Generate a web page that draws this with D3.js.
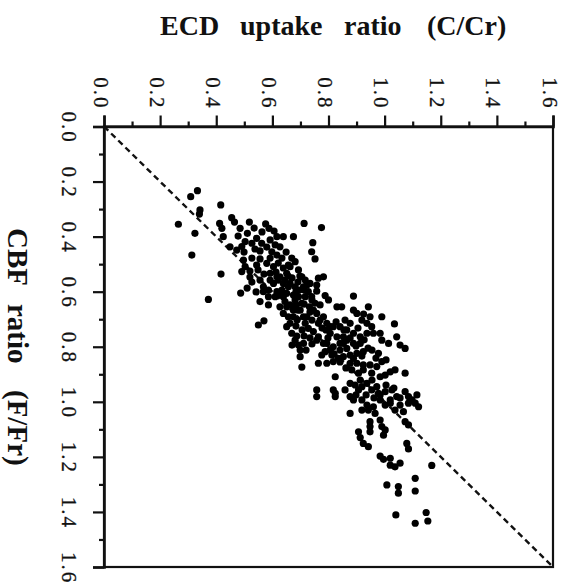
<!DOCTYPE html>
<html><head><meta charset="utf-8">
<script src="https://cdn.jsdelivr.net/npm/d3@7"></script>
<style>body{margin:0;background:#fff}svg{display:block}</style>
</head><body>
<svg id="chart" width="570" height="588"></svg>
<script>
// ---- data ----
const tickValues = [0.0,0.2,0.4,0.6,0.8,1.0,1.2,1.4,1.6];
const tickLabels = ["0.0","0.2","0.4","0.6","0.8","1.0","1.2","1.4","1.6"];
const minorTicks = [0.1,0.3,0.5,0.7,0.9,1.1,1.3,1.5];
const xTitle = ["ECD","uptake","ratio","(C/Cr)"];
const yTitle = ["CBF","ratio","(F/Fr)"];
const identityLine = [[0,0],[1.6,1.6]];
// ECD uptake ratio (C/Cr)
const ecd = [0.333,0.309,0.416,0.342,0.340,0.265,0.324,0.313,0.417,0.372,0.487,0.412,0.420,0.425,0.455,0.465,0.485,0.518,0.511,0.576,
0.588,0.606,0.616,0.449,0.473,0.491,0.503,0.527,0.544,0.562,0.538,0.556,0.580,0.598,0.627,0.639,0.649,0.669,0.497,0.503,
0.520,0.544,0.556,0.580,0.604,0.621,0.639,0.491,0.520,0.527,0.556,0.568,0.586,0.604,0.621,0.639,0.657,0.651,0.627,0.610,
0.556,0.586,0.586,0.550,0.570,0.568,0.616,0.713,0.775,0.675,0.744,0.740,0.752,0.610,0.616,0.681,0.657,0.693,0.717,0.711,
0.764,0.782,0.758,0.758,0.788,0.627,0.645,0.663,0.681,0.728,0.740,0.693,0.675,0.663,0.705,0.723,0.696,0.717,0.705,0.732,
0.800,0.830,0.847,0.651,0.675,0.651,0.669,0.782,0.806,0.830,0.853,0.764,0.782,0.806,0.699,0.705,0.764,0.817,0.592,0.616,
0.651,0.734,0.639,0.699,0.711,0.717,0.728,0.746,0.764,0.758,0.752,0.627,0.645,0.639,0.657,0.663,0.681,0.693,0.687,0.758,
0.758,0.681,0.675,0.723,0.746,0.770,0.794,0.817,0.841,0.865,0.889,0.853,0.806,0.758,0.794,0.817,0.841,0.865,0.889,0.913,
0.924,0.901,0.877,0.853,0.794,0.889,0.901,0.883,0.907,0.924,0.948,0.972,0.990,0.978,0.954,0.984,1.002,1.020,1.037,0.824,
0.817,0.824,0.877,0.895,0.907,0.919,0.937,0.954,0.972,0.889,0.919,0.937,0.984,1.002,1.020,1.043,1.073,1.085,1.115,1.109,
0.889,0.942,0.948,0.990,1.035,0.901,0.919,0.937,0.954,0.960,0.984,0.990,1.014,1.043,1.055,1.073,0.889,0.925,0.877,0.841,
0.865,0.913,0.937,0.711,0.699,0.788,0.812,0.835,0.877,0.924,1.073,0.776,0.913,0.877,0.984,1.020,1.121,0.877,0.942,0.966,
0.948,0.948,0.984,0.990,1.002,0.907,0.913,0.924,0.942,1.079,1.085,0.984,1.020,1.055,1.168,0.824,0.960,0.978,1.002,1.026,
1.037,1.055,1.067,0.996,0.996,1.020,1.037,1.109,1.008,1.049,1.049,1.109,1.040,1.109,1.148,1.154,0.948,1.085,1.073,1.085,
0.685,0.688,0.706,0.734,0.859,
0.478,0.499,0.527,0.549,0.570,0.592,0.613,0.634,0.656,0.592,0.563,0.535,0.510,0.542,0.592,0.634,
0.670,0.691,0.713,0.684,0.663,0.691,0.713,0.734,0.741,0.684,0.713,0.741,0.670,0.720,0.698,0.741,0.770,
0.777,0.798,0.827,0.855,0.877,0.905,0.927,0.941,0.841,0.862,0.898,0.820,0.791,0.919,0.955,0.969,1.005,
0.859,0.898,0.934,0.962,0.955,1.005,1.033,1.055,1.098,0.919];
// CBF ratio (F/Fr)
const cbf = [0.233,0.255,0.285,0.303,0.318,0.355,0.388,0.467,0.536,0.628,0.605,0.352,0.370,0.400,0.331,0.347,0.370,0.347,0.388,0.354,
0.370,0.380,0.400,0.437,0.449,0.436,0.418,0.424,0.406,0.424,0.445,0.452,0.438,0.455,0.437,0.400,0.456,0.478,0.485,0.509,
0.525,0.503,0.481,0.497,0.509,0.496,0.514,0.527,0.547,0.565,0.558,0.582,0.594,0.570,0.558,0.570,0.582,0.606,0.612,0.618,
0.636,0.618,0.648,0.721,0.706,0.600,0.600,0.352,0.367,0.400,0.422,0.455,0.481,0.430,0.467,0.491,0.503,0.521,0.558,0.582,
0.551,0.546,0.576,0.598,0.614,0.546,0.558,0.570,0.582,0.600,0.618,0.618,0.612,0.509,0.546,0.576,0.594,0.618,0.642,0.655,
0.630,0.655,0.655,0.655,0.691,0.727,0.751,0.691,0.727,0.764,0.788,0.764,0.788,0.812,0.836,0.874,0.860,0.854,0.533,0.546,
0.533,0.570,0.618,0.667,0.691,0.715,0.733,0.745,0.715,0.679,0.642,0.655,0.636,0.679,0.691,0.715,0.776,0.794,0.761,0.957,
0.981,0.630,0.667,0.691,0.667,0.703,0.715,0.727,0.727,0.739,0.751,0.764,0.751,0.776,0.788,0.800,0.812,0.806,0.788,0.788,
0.818,0.824,0.830,0.836,0.860,0.842,0.860,0.884,0.896,0.884,0.866,0.872,0.854,0.824,0.896,0.909,0.903,0.891,0.884,0.909,
0.957,0.981,0.933,0.939,0.957,0.945,0.933,0.957,0.945,0.993,0.993,1.012,0.993,1.012,0.993,0.981,0.963,0.981,0.975,1.005,
0.616,0.655,0.691,0.691,0.717,0.679,0.703,0.715,0.727,0.751,0.751,0.776,0.788,0.764,0.794,0.896,0.667,0.681,0.715,0.788,
0.776,0.764,0.751,0.788,0.812,0.818,0.830,0.842,0.860,0.866,0.806,0.830,0.921,0.981,0.975,1.005,1.018,1.042,1.030,1.042,
1.072,1.090,1.066,1.090,1.102,1.109,1.130,1.151,1.163,1.151,1.171,1.197,1.205,1.223,1.231,0.969,1.018,0.969,0.963,0.957,
1.030,1.012,1.036,1.121,1.209,1.230,1.236,1.278,1.302,1.308,1.332,1.324,1.411,1.441,1.402,1.433,1.109,1.005,1.072,1.084,
0.648,0.703,0.739,0.768,0.703,
0.398,0.456,0.478,0.521,0.536,0.478,0.529,0.478,0.543,0.412,0.383,0.369,0.587,0.601,0.558,0.594,
0.550,0.565,0.594,0.601,0.648,0.667,0.645,0.674,0.703,0.725,0.761,0.790,0.794,0.812,0.543,0.630,0.648,
0.732,0.768,0.710,0.739,0.768,0.732,0.775,0.805,0.855,0.877,0.797,0.826,0.739,0.834,0.812,0.841,0.848,
0.957,0.975,0.975,0.986,0.921,0.939,0.950,0.986,0.993,1.030];

const points = ecd.map((v,i)=>({x:v,y:cbf[i]}));

// ---- chart ----
const svg = d3.select("#chart");
const FONT = "'Liberation Serif','Times New Roman',serif";
const L=104, T=126.5, R=553, B=567;
const x = d3.scaleLinear().domain([0,1.6]).range([L,R]);
const y = d3.scaleLinear().domain([0,1.6]).range([T,B]);
const INK = "#111";

// frame (right & bottom)
svg.append("rect").attr("x",L).attr("y",T).attr("width",R-L).attr("height",B-T)
  .attr("fill","none").attr("stroke",INK).attr("stroke-width",2.2);

// top axis
const topAxis = svg.append("g").attr("transform",`translate(0,${T})`)
  .call(d3.axisTop(x).tickValues(tickValues).tickSize(11).tickFormat(""));
topAxis.select(".domain").attr("stroke-width",2.6).attr("stroke",INK);
topAxis.selectAll(".tick line").attr("stroke-width",2.2).attr("stroke",INK);
svg.append("g").attr("transform",`translate(0,${T})`)
  .call(d3.axisTop(x).tickValues(minorTicks).tickSize(5).tickFormat(""))
  .call(g=>{g.select(".domain").remove();g.selectAll(".tick line").attr("stroke-width",2.2).attr("stroke",INK);});

// left axis
const leftAxis = svg.append("g").attr("transform",`translate(${L},0)`)
  .call(d3.axisLeft(y).tickValues(tickValues).tickSize(11).tickFormat(""));
leftAxis.select(".domain").attr("stroke-width",2.6).attr("stroke",INK);
leftAxis.selectAll(".tick line").attr("stroke-width",2.2).attr("stroke",INK);
svg.append("g").attr("transform",`translate(${L},0)`)
  .call(d3.axisLeft(y).tickValues(minorTicks).tickSize(5).tickFormat(""))
  .call(g=>{g.select(".domain").remove();g.selectAll(".tick line").attr("stroke-width",2.2).attr("stroke",INK);});

// top tick labels (rotated)
svg.append("g").selectAll("text").data(tickValues).join("text")
  .attr("transform",(d)=>`translate(${x(d)-10.5},${T-17}) rotate(90)`)
  .attr("text-anchor","end")
  .attr("font-family",FONT).attr("font-size",21).attr("letter-spacing",2)
  .attr("fill",INK).attr("stroke",INK).attr("stroke-width",0.3)
  .text((d,i)=>tickLabels[i]);

// left tick labels (rotated)
svg.append("g").selectAll("text").data(tickValues).join("text")
  .attr("transform",(d)=>`translate(62,${y(d)+1}) rotate(90)`)
  .attr("text-anchor","middle")
  .attr("font-family",FONT).attr("font-size",21).attr("letter-spacing",2)
  .attr("fill",INK).attr("stroke",INK).attr("stroke-width",0.3)
  .text((d,i)=>tickLabels[i]);

// top title
const xt = svg.append("text").attr("y",35)
  .attr("font-family",FONT).attr("font-size",28).attr("font-weight","bold").attr("fill",INK);
const xtPos=[160,240,344,427];
xTitle.forEach((w,i)=>xt.append("tspan").attr("x",xtPos[i]).text(w));

// left title (rotated; word starts along the vertical direction)
const yt = svg.append("text").attr("transform","translate(8,0) rotate(90)")
  .attr("font-family",FONT).attr("font-size",29).attr("font-weight","bold").attr("fill",INK);
const ytPos=[228,304,390];
yTitle.forEach((w,i)=>yt.append("tspan").attr("x",ytPos[i]).attr("y",0).text(w));

// identity line
svg.append("path").datum(identityLine)
  .attr("d",d3.line().x(d=>x(d[0])).y(d=>y(d[1])))
  .attr("stroke",INK).attr("stroke-width",2.4).attr("stroke-dasharray","6,4").attr("fill","none");

// points
svg.append("g").selectAll("circle").data(points).join("circle")
  .attr("cx",d=>x(d.x)).attr("cy",d=>y(d.y)).attr("r",3.6).attr("fill","#000");
</script>
</body></html>
